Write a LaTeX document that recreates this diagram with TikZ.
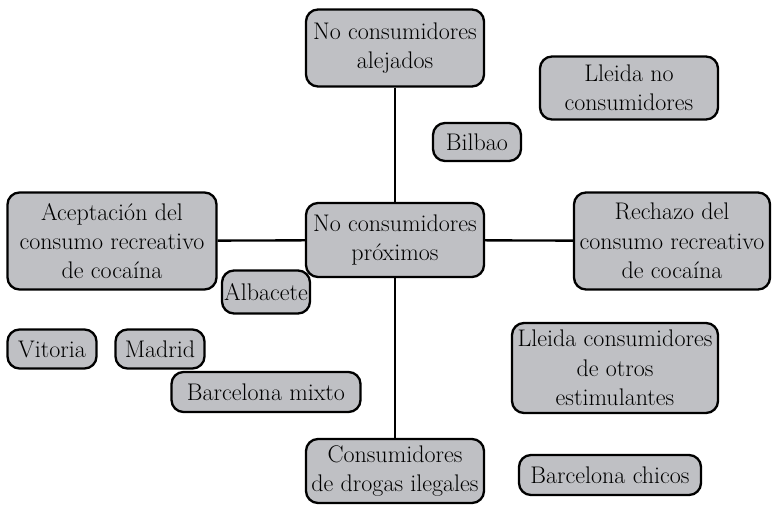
\documentclass[tikz,border=0pt]{standalone}
\usepackage{tikz}
\usetikzlibrary{positioning}
\definecolor{boxgray}{RGB}{191,192,196}
\tikzstyle{link} = [line width=2pt]

\begin{document}
\begin{tikzpicture}[
    x = 0.03cm, y = -0.03cm,
    every node/.style = {draw, rounded corners = 0.36cm, fill = boxgray, line width = 2pt,
        align = center, inner sep = 0pt, font = \fontsize{20.5}{25}\selectfont}
  ]
  \useasboundingbox (0,0) rectangle (777,511);

  % axis boxes
  \node[minimum width = 5.34cm, minimum height = 2.31cm] (Alejados) at (395,48) {No consumidores\\alejados};
  \node[minimum width = 5.34cm, minimum height = 2.22cm] (Proximos) at (395,240) {No consumidores\\próximos};
  \node[minimum width = 6.27cm, minimum height = 2.91cm] (Aceptacion) at (112,241) {Aceptación del\\consumo recreativo\\de cocaína};
  \node[minimum width = 5.88cm, minimum height = 2.91cm] (Rechazo) at (672,241) {Rechazo del\\consumo recreativo\\de cocaína};
  \node[minimum width = 5.34cm, minimum height = 1.92cm] (Ilegales) at (395,471) {Consumidores\\de drogas ilegales};

  % groups
  \node[minimum width = 5.34cm, minimum height = 1.89cm] (LleidaNo) at (629,88) {Lleida no\\consumidores};
  \node[minimum width = 2.64cm, minimum height = 1.14cm] (Bilbao) at (477,142) {Bilbao};
  \node[minimum width = 2.64cm, minimum height = 1.29cm] (Albacete) at (266,292) {Albacete};
  \node[minimum width = 2.67cm, minimum height = 1.17cm] (Vitoria) at (52,349) {Vitoria};
  \node[minimum width = 2.67cm, minimum height = 1.17cm] (Madrid) at (160,349) {Madrid};
  \node[minimum width = 5.67cm, minimum height = 1.20cm] (BcnMixto) at (266,392) {Barcelona mixto};
  \node[minimum width = 6.18cm, minimum height = 2.70cm] (LleidaOtros) at (615,368) {Lleida consumidores\\de otros\\estimulantes};
  \node[minimum width = 5.46cm, minimum height = 1.20cm] (BcnChicos) at (610,475) {Barcelona chicos};

  % axes
  \draw[link] (Alejados) -- (Proximos);
  \draw[link] (Proximos) -- (Ilegales);
  \draw[link] (Aceptacion) -- (Proximos);
  \draw[link] (Proximos) -- (Rechazo);
\end{tikzpicture}
\end{document}
